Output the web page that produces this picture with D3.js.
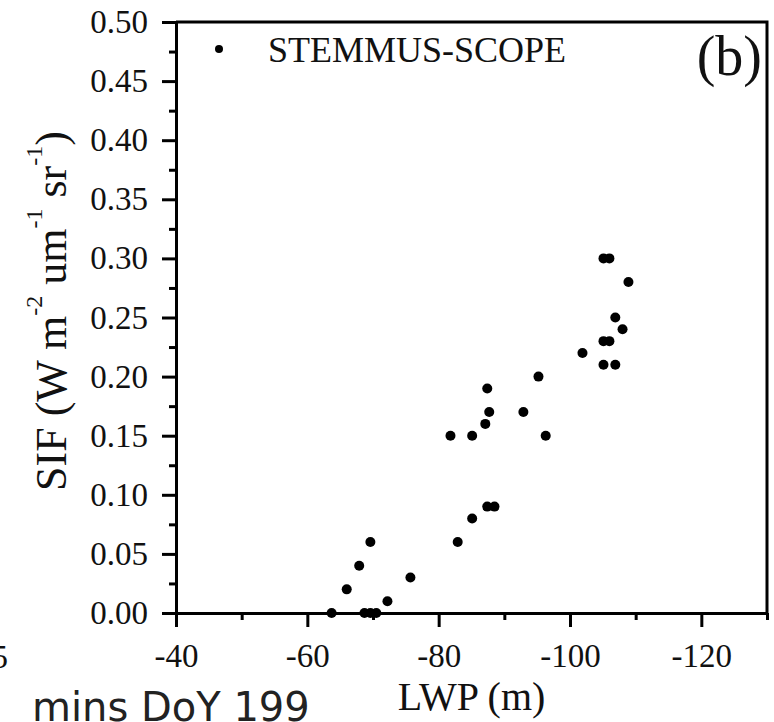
<!DOCTYPE html>
<html>
<head>
<meta charset="utf-8">
<script src="https://cdn.jsdelivr.net/npm/d3@7"></script>
<style>
  body { margin: 0; background: #fff; }
  svg { display: block; }
</style>
</head>
<body>
<div id="chart"></div>
<script>
// LWP (m) and SIF values
var lwp = [-105.1, -106.0, -108.9, -106.9, -108.0, -105.1, -106.0, -101.9, -105.1, -106.9,
           -95.2, -87.4, -87.7, -92.9, -87.1, -81.8, -85.1, -96.3, -87.4, -88.5,
           -85.1, -82.9, -69.6, -67.9, -66.0, -75.7, -72.2, -63.7, -68.7, -69.6, -70.5];
var sif = [0.30, 0.30, 0.28, 0.25, 0.24, 0.23, 0.23, 0.22, 0.21, 0.21,
           0.20, 0.19, 0.17, 0.17, 0.16, 0.15, 0.15, 0.15, 0.09, 0.09,
           0.08, 0.06, 0.06, 0.04, 0.02, 0.03, 0.01, 0.00, 0.00, 0.00, 0.00];

var xMajor = [-40, -60, -80, -100, -120];
var xMinor = [-50, -70, -90, -110, -130];
var yMajor = [0, 0.05, 0.10, 0.15, 0.20, 0.25, 0.30, 0.35, 0.40, 0.45, 0.50];
var yMinor = [0.025, 0.075, 0.125, 0.175, 0.225, 0.275, 0.325, 0.375, 0.425, 0.475];

var seriesName = "STEMMUS-SCOPE";

var width = 774, height = 722;
var margin = {top: 22, right: 7, bottom: 109, left: 176};
var serif = "'Liberation Serif', 'Times New Roman', serif";

var svg = d3.select("#chart").append("svg")
    .attr("width", width)
    .attr("height", height);

var x = d3.scaleLinear()
    .domain([-40, -130])
    .range([margin.left, width - margin.right]);

var y = d3.scaleLinear()
    .domain([0, 0.5])
    .range([height - margin.bottom, margin.top]);

// frame (top and right)
svg.append("path")
    .attr("d", "M " + x.range()[0] + " " + y.range()[1] + " L " + x.range()[1] + " " + y.range()[1] + " L " + x.range()[1] + " " + y.range()[0])
    .attr("fill", "none")
    .attr("stroke", "#000")
    .attr("stroke-width", 3);

// minor ticks
svg.append("g")
    .attr("transform", "translate(0," + y.range()[0] + ")")
    .call(d3.axisBottom(x).tickValues(xMinor).tickSize(7).tickSizeOuter(0).tickFormat(""))
    .call(function(g) { g.select(".domain").remove(); })
    .selectAll("line").attr("stroke-width", 3);

svg.append("g")
    .attr("transform", "translate(" + x.range()[0] + ",0)")
    .call(d3.axisLeft(y).tickValues(yMinor).tickSize(7).tickSizeOuter(0).tickFormat(""))
    .call(function(g) { g.select(".domain").remove(); })
    .selectAll("line").attr("stroke-width", 3);

// major axes
var xAxis = svg.append("g")
    .attr("transform", "translate(0," + y.range()[0] + ")")
    .call(d3.axisBottom(x).tickValues(xMajor).tickSize(14).tickSizeOuter(0).tickPadding(17)
        .tickFormat(function(d) { return String(d); }));

var yAxis = svg.append("g")
    .attr("transform", "translate(" + x.range()[0] + ",0)")
    .call(d3.axisLeft(y).tickValues(yMajor).tickSize(14).tickSizeOuter(0).tickPadding(14)
        .tickFormat(d3.format(".2f")));

[xAxis, yAxis].forEach(function(g) {
    g.select(".domain").attr("stroke-width", 3);
    g.selectAll(".tick line").attr("stroke-width", 3);
    g.selectAll(".tick text")
        .style("font-family", serif)
        .style("font-size", "33px")
        .attr("fill", "#111");
});

// points
svg.append("g")
    .selectAll("circle")
    .data(lwp)
    .enter().append("circle")
    .attr("cx", function(d) { return x(d); })
    .attr("cy", function(d, i) { return y(sif[i]); })
    .attr("r", 5)
    .attr("fill", "#000");

// legend
svg.append("circle")
    .attr("cx", 219)
    .attr("cy", 49)
    .attr("r", 4)
    .attr("fill", "#000");

svg.append("text")
    .attr("x", 268)
    .attr("y", 62)
    .style("font-family", serif)
    .style("font-size", "36px")
    .attr("fill", "#111")
    .text(seriesName);

// panel letter
svg.append("text")
    .attr("x", 762)
    .attr("y", 75)
    .attr("text-anchor", "end")
    .style("font-family", serif)
    .style("font-size", "56px")
    .attr("fill", "#111")
    .text("(b)");

// x title
svg.append("text")
    .attr("x", (x.range()[0] + x.range()[1]) / 2)
    .attr("y", 710)
    .attr("text-anchor", "middle")
    .style("font-family", serif)
    .style("font-size", "40px")
    .attr("fill", "#111")
    .text("LWP (m)");

// y title with superscripts
var yTitle = svg.append("text")
    .attr("transform", "translate(66,311) rotate(-90)")
    .attr("text-anchor", "middle")
    .style("font-family", serif)
    .style("font-size", "44px")
    .attr("fill", "#111");

var parts = [["SIF (W m", 0], ["-2", 1], [" um", 0], ["-1", 1], [" sr", 0], ["-1", 1], [")", 0]];
var prevSup = 0;
parts.forEach(function(p) {
    var t = yTitle.append("tspan").text(p[0]);
    if (p[1]) t.style("font-size", "24px");
    if (p[1] !== prevSup) t.attr("dy", p[1] ? -24 : 24);
    prevSup = p[1];
});

// pieces of the neighbouring panel cut by the crop
svg.append("text")
    .attr("x", 8)
    .attr("y", 668)
    .attr("text-anchor", "end")
    .style("font-family", serif)
    .style("font-size", "33px")
    .attr("fill", "#111")
    .text("5");

svg.append("text")
    .attr("x", 32)
    .attr("y", 721)
    .style("font-family", "'DejaVu Sans', sans-serif")
    .style("font-size", "40px")
    .attr("fill", "#222")
    .text("mins DoY 199");
</script>
</body>
</html>
